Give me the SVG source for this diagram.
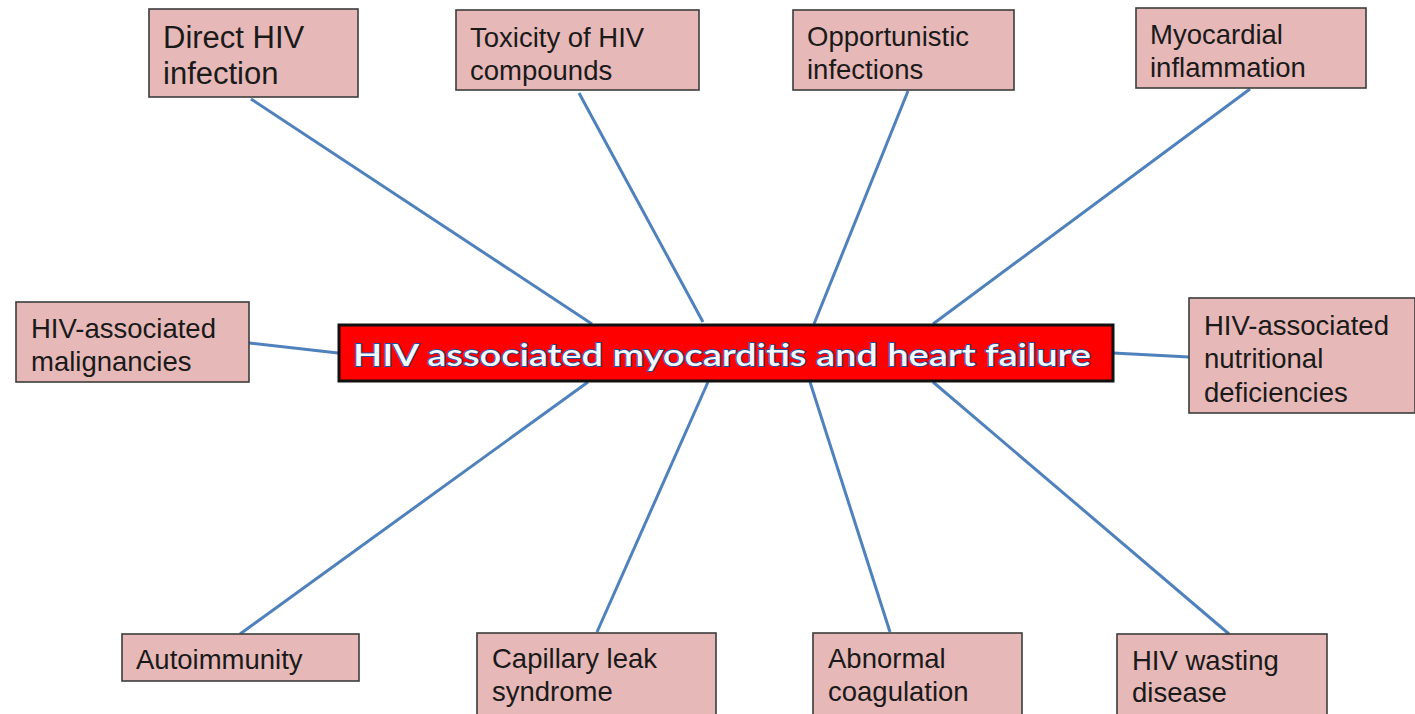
<svg xmlns="http://www.w3.org/2000/svg" width="1415" height="714" viewBox="0 0 1415 714">
<style>
.box{fill:#e6b8b7;stroke:#3c3c3c;stroke-width:1.6}
.t{font-family:"Liberation Sans",Arial,sans-serif;font-size:27.5px;fill:#1a1a1a}
.big{font-size:31px}
.c{stroke:#4f81bd;stroke-width:3;fill:none}
.main{font-family:Lato,"Open Sans",sans-serif;font-size:31px;font-weight:600;fill:#f4f8ff;stroke:#1f4e9a;stroke-width:1.8;paint-order:stroke}
</style>
<rect width="1415" height="714" fill="#ffffff"/>
<g id="connectors">
<line class="c" x1="251" y1="99" x2="592" y2="324"/>
<line class="c" x1="579" y1="93" x2="703" y2="322"/>
<line class="c" x1="908" y1="91" x2="814" y2="324"/>
<line class="c" x1="1250" y1="89" x2="933" y2="324"/>
<line class="c" x1="249" y1="343" x2="338" y2="353"/>
<line class="c" x1="1113" y1="353" x2="1189" y2="357"/>
<line class="c" x1="588" y1="382" x2="240" y2="634"/>
<line class="c" x1="708" y1="382" x2="597" y2="632"/>
<line class="c" x1="810" y1="382" x2="890" y2="632"/>
<line class="c" x1="933" y1="382" x2="1229" y2="634"/>
</g>
<g id="center">
<rect x="339" y="325" width="774" height="56" fill="#ff0000" stroke="#111" stroke-width="3"/>
<text class="main" x="353" y="366" textLength="738" lengthAdjust="spacingAndGlyphs">HIV associated myocarditis and heart failure</text>
</g>
<g id="n-direct">
<rect class="box" x="149" y="9" width="209" height="88"/>
<text class="t big" x="163" y="48">Direct HIV</text>
<text class="t big" x="163" y="84">infection</text>
</g>
<g id="n-toxicity">
<rect class="box" x="456" y="10" width="243" height="80"/>
<text class="t" x="470" y="47">Toxicity of HIV</text>
<text class="t" x="470" y="80">compounds</text>
</g>
<g id="n-opportunistic">
<rect class="box" x="793" y="10" width="221" height="80"/>
<text class="t" x="807" y="46">Opportunistic</text>
<text class="t" x="807" y="79">infections</text>
</g>
<g id="n-myocardial">
<rect class="box" x="1136" y="8" width="230" height="80"/>
<text class="t" x="1150" y="44">Myocardial</text>
<text class="t" x="1150" y="77">inflammation</text>
</g>
<g id="n-malignancies">
<rect class="box" x="16" y="302" width="233" height="80"/>
<text class="t" x="31" y="338">HIV-associated</text>
<text class="t" x="31" y="371">malignancies</text>
</g>
<g id="n-nutritional">
<rect class="box" x="1189" y="298" width="226" height="115"/>
<text class="t" x="1204" y="335">HIV-associated</text>
<text class="t" x="1204" y="368">nutritional</text>
<text class="t" x="1204" y="402">deficiencies</text>
</g>
<g id="n-autoimmunity">
<rect class="box" x="122" y="634" width="237" height="47"/>
<text class="t" x="136" y="669">Autoimmunity</text>
</g>
<g id="n-capillary">
<rect class="box" x="477" y="633" width="239" height="90"/>
<text class="t" x="492" y="668">Capillary leak</text>
<text class="t" x="492" y="701">syndrome</text>
</g>
<g id="n-coagulation">
<rect class="box" x="813" y="633" width="209" height="90"/>
<text class="t" x="828" y="668">Abnormal</text>
<text class="t" x="828" y="701">coagulation</text>
</g>
<g id="n-wasting">
<rect class="box" x="1117" y="634" width="210" height="90"/>
<text class="t" x="1132" y="670">HIV wasting</text>
<text class="t" x="1132" y="702">disease</text>
</g>
</svg>
